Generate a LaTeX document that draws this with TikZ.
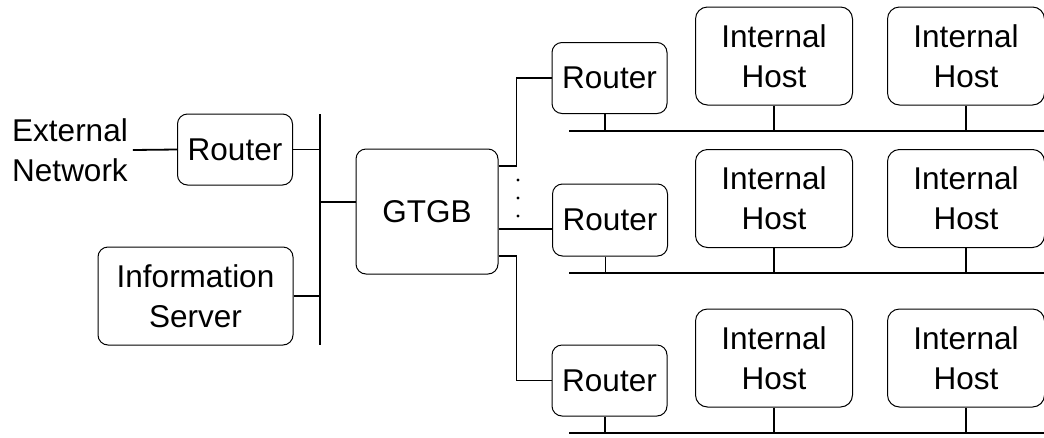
\documentclass[tikz,border=0pt]{standalone}
\usepackage{fontspec}
\setmainfont{Liberation Sans}
\begin{document}
\begin{tikzpicture}[x=1pt,y=-1pt,
    box/.style={draw,rounded corners=10pt,line width=1pt,inner sep=0pt,align=center,font=\fontsize{31.5}{40}\selectfont},
    router/.style={box,minimum width=115pt,minimum height=71pt},
    host/.style={box,rounded corners=12pt,minimum width=157pt,minimum height=98pt},
    wire/.style={line width=1.8pt}]
  \path[use as bounding box] (0,0) rectangle (1044,437);
  % left side
  \node[align=center,inner sep=5pt,font=\fontsize{31.5}{40}\selectfont] (ext) at (70,150) {External\\Network};
  \node[router] (r0) at (235,149.5) {Router};
  \node[box,minimum width=195pt,minimum height=98pt] (info) at (195.5,296) {Information\\Server};
  \node[box,minimum width=142pt,minimum height=125pt] (gtgb) at (427,211.5) {GTGB};
  \coordinate (lbt) at (320,114);
  \coordinate (lbb) at (320,345);
  \draw[wire] (lbt) -- (lbb);
  \draw[wire] (ext.east) -- (r0.west);
  \draw[wire] (r0.east) -- (r0.east -| lbt);
  \draw[wire] (info.east) -- (info.east -| lbt);
  \draw[wire] ([yshift=9.5pt]gtgb.west) -- ([yshift=9.5pt]gtgb.west -| lbt);
  % internal networks
  \node[router] (r1) at (609.5,78) {Router};
  \node[router,minimum height=72pt] (r2) at (610,220) {Router};
  \node[router] (r3) at (609.5,380.5) {Router};
  \foreach \i/\y/\b in {1/56/131,2/198.5/273,3/358/433} {
    \node[host] (h\i a) at (774,\y) {Internal\\Host};
    \node[host] (h\i b) at (966,\y) {Internal\\Host};
    \coordinate (bus\i) at (569,\b);
    \draw[wire] (bus\i) -- (1044,\b);
    \draw[wire] ([xshift=-4.5pt]r\i.south) -- ([xshift=-4.5pt]r\i.south |- bus\i);
    \draw[wire] (h\i a.south) -- (h\i a.south |- bus\i);
    \draw[wire] (h\i b.south) -- (h\i b.south |- bus\i);
  }
  \draw[wire] ([yshift=45.5pt]gtgb.east) -- ++(18,0) |- (r1.west);
  \draw[wire] ([yshift=-17.5pt]gtgb.east) coordinate (g2) -- (g2 -| r2.west);
  \draw[wire] ([yshift=-44.5pt]gtgb.east) -- ++(18,0) |- (r3.west);
  \foreach \d in {180,198,216}
    \fill (518,\d) circle (1.7pt);
\end{tikzpicture}
\end{document}
